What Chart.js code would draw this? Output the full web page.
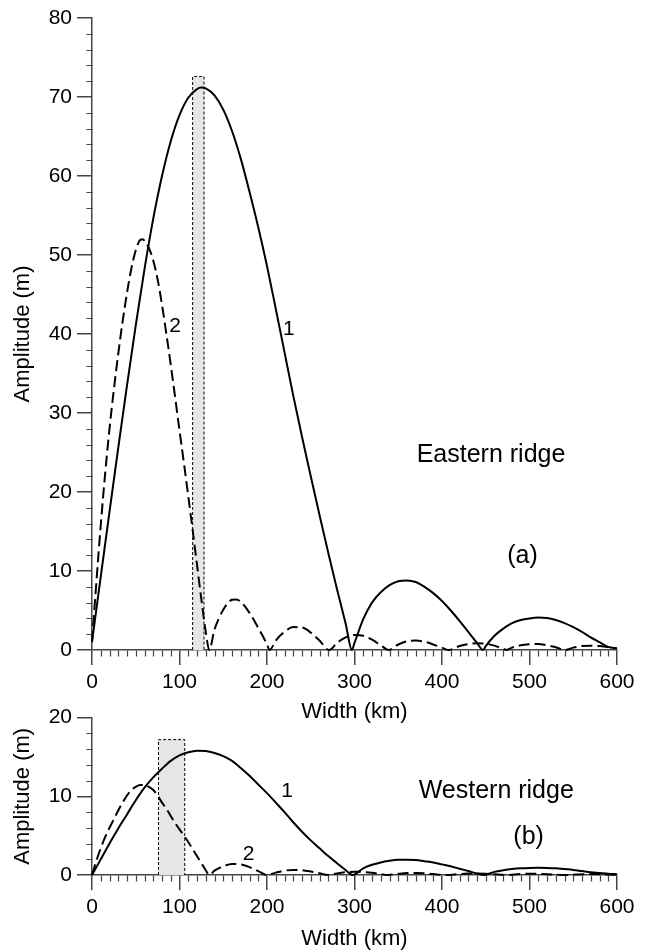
<!DOCTYPE html>
<html>
<head>
<meta charset="utf-8">
<script src="https://cdn.jsdelivr.net/npm/chart.js@4.4.1/dist/chart.umd.min.js"></script>
<style>
  html, body { margin: 0; padding: 0; background: #fff; }
  body { width: 650px; height: 952px; position: relative; overflow: hidden; }
  canvas { position: absolute; left: 0; }
  #eastChart { top: 0; }
  #westChart { top: 700px; }
</style>
</head>
<body>
<canvas id="eastChart" width="650" height="725"></canvas>
<canvas id="westChart" width="650" height="252"></canvas>
<script>
// Eastern ridge (a), curve 1 (solid)
const eastWidth1 = [0,10,20,30,40,50,60,70,80,90,100,110,120,125,130,140,150,160,170,180,190,200,210,220,230,240,250,260,270,280,290,297,300,310,320,330,340,350,360,370,380,390,400,410,420,430,440,447,450,460,470,480,490,500,510,520,530,540,550,560,570,580,590,600];
const eastAmp1 = [1.0,9.3,17.5,25.6,33.5,41.1,48.2,54.6,60.0,64.4,67.7,69.9,71.0,71.2,71.1,70.2,68.4,65.7,62.2,58.0,53.5,48.6,43.2,37.7,32.2,27.0,22.0,17.1,12.3,7.7,3.3,0,0.9,3.9,6.0,7.3,8.2,8.7,8.8,8.6,8.0,7.2,6.2,5.0,3.7,2.3,0.9,0,0.5,1.8,2.7,3.4,3.8,4.0,4.1,4.05,3.8,3.4,2.9,2.3,1.6,1.0,0.4,0.2];

// Eastern ridge (a), curve 2 (dashed)
const eastWidth2 = [0,5,10,15,20,25,30,35,40,45,50,55,58,60,65,70,75,80,85,90,95,100,105,110,115,120,125,130,134,140,145,150,155,160,165,170,175,180,185,190,195,200,203,210,220,230,240,250,260,271,280,290,300,310,320,330,339,350,360,370,380,390,400,407,420,430,440,450,460,470,474,480,490,500,510,520,530,541,550,560,570,580,590,600];
const eastAmp2 = [1.0,8.6,15.8,22.3,28.0,33.0,37.5,41.6,45.2,48.3,50.6,51.9,52.0,51.8,50.9,49.3,46.9,43.7,40.0,36.1,32.0,27.8,23.7,19.5,15.2,10.8,6.4,2.3,0,2.6,4.0,5.1,5.9,6.35,6.4,6.1,5.5,4.7,3.8,2.8,1.8,0.7,0,1.2,2.3,2.9,2.85,2.2,1.2,0,0.9,1.6,1.9,1.8,1.3,0.6,0,0.7,1.1,1.2,1.05,0.7,0.3,0,0.5,0.75,0.85,0.8,0.55,0.15,0,0.3,0.6,0.72,0.75,0.6,0.35,0,0.3,0.5,0.55,0.5,0.35,0.2];

// Western ridge (b), curve 1 (solid)
const westWidth1 = [0,10,20,30,40,50,60,70,80,90,100,110,120,130,140,150,160,170,180,190,200,210,220,230,240,250,260,270,280,290,298,310,320,330,340,350,360,370,380,390,400,410,420,430,440,448,460,470,480,490,500,510,520,530,540,550,560,570,580,590,600];
const westAmp1 = [0,2.0,4.0,5.9,7.7,9.5,11.1,12.4,13.5,14.5,15.2,15.6,15.8,15.75,15.5,15.1,14.5,13.6,12.6,11.5,10.4,9.2,8.0,6.7,5.5,4.4,3.4,2.4,1.5,0.6,0,0.85,1.3,1.6,1.8,1.93,1.95,1.9,1.75,1.6,1.35,1.1,0.8,0.5,0.2,0,0.4,0.6,0.75,0.85,0.9,0.92,0.9,0.85,0.75,0.65,0.5,0.35,0.25,0.15,0.1];

// Western ridge (b), curve 2 (dashed)
const westWidth2 = [0,5,10,15,20,25,30,35,40,45,50,55,60,65,70,75,80,85,90,95,100,105,110,115,120,125,130,134,140,150,160,170,180,190,200,210,220,230,240,250,260,270,280,290,300,310,320,330,338,350,360,370,380,390,405,420,430,440,450,460,473,490,505,520,540,560,570,585,600];
const westAmp2 = [0,1.8,3.4,4.8,6.0,7.1,8.2,9.2,10.1,10.8,11.2,11.45,11.45,11.2,10.8,10.1,9.2,8.4,7.5,6.6,5.8,5.0,4.2,3.3,2.4,1.5,0.6,0,0.55,1.1,1.4,1.35,1.0,0.5,0,0.3,0.55,0.65,0.62,0.45,0.22,0,0.2,0.35,0.42,0.38,0.28,0.12,0,0.15,0.25,0.27,0.22,0.12,0,0.12,0.18,0.19,0.15,0.08,0,0.13,0.16,0.1,0,0.1,0.12,0.08,0.02];

// shaded width range [from, to, top]
const eastBand = [115, 128, 72.6];
const westBand = [76, 106, 17.2];

const FONT = "'Liberation Sans', Arial, Helvetica, sans-serif";
const AXIS = "#444";

const toPoints = (xs, ys) => xs.map((x, i) => ({ x, y: ys[i] }));

function decorPlugin(band, notes, yMinor) {
  return {
    id: "decor",
    beforeDatasetsDraw(chart) {
      const { ctx, scales: { x, y } } = chart;
      const x0 = x.getPixelForValue(band[0]);
      const x1 = x.getPixelForValue(band[1]);
      const yb = y.getPixelForValue(0);
      const yt = y.getPixelForValue(band[2]);
      ctx.save();
      ctx.fillStyle = "#e6e6e6";
      ctx.fillRect(x0, yt, x1 - x0, yb - yt);
      ctx.strokeStyle = "#000";
      ctx.lineWidth = 1;
      ctx.setLineDash([3, 2]);
      ctx.beginPath();
      ctx.moveTo(x0, yb);
      ctx.lineTo(x0, yt);
      ctx.lineTo(x1, yt);
      ctx.lineTo(x1, yb);
      ctx.stroke();
      ctx.restore();
    },
    afterDraw(chart) {
      const { ctx, scales: { x, y } } = chart;
      const axisY = Math.round(y.getPixelForValue(0)) + 0.5;
      const axisX = Math.round(x.getPixelForValue(0)) + 0.5;
      ctx.save();
      ctx.strokeStyle = AXIS;
      ctx.lineWidth = 1.2;
      ctx.beginPath();
      for (let v = 10; v < x.max; v += 10) {
        if (v % 100 === 0) continue;
        const px = Math.round(x.getPixelForValue(v)) + 0.5;
        ctx.moveTo(px, axisY);
        ctx.lineTo(px, axisY + 6);
      }
      for (let v = yMinor; v < y.max; v += yMinor) {
        if (v % 10 === 0) continue;
        const py = Math.round(y.getPixelForValue(v)) + 0.5;
        ctx.moveTo(axisX, py);
        ctx.lineTo(axisX - 6, py);
      }
      ctx.stroke();

      ctx.fillStyle = "#000";
      ctx.textAlign = "center";
      ctx.textBaseline = "middle";
      notes.forEach((n) => {
        ctx.font = `${n.size}px ${FONT}`;
        ctx.fillText(n.text, x.getPixelForValue(n.x), y.getPixelForValue(n.y));
      });
      ctx.restore();
    },
  };
}

function makeChart(id, opts) {
  const tickFont = { family: FONT, size: 21 };
  const titleFont = { family: FONT, size: 22 };
  return new Chart(document.getElementById(id).getContext("2d"), {
    type: "line",
    data: {
      datasets: [
        {
          data: toPoints(opts.width1, opts.amp1),
          borderColor: "#000",
          borderWidth: 2,
          pointRadius: 0,
          cubicInterpolationMode: "monotone",
          clip: 4,
        },
        {
          data: toPoints(opts.width2, opts.amp2),
          borderColor: "#000",
          borderWidth: 2,
          borderDash: [11, 5],
          pointRadius: 0,
          cubicInterpolationMode: "monotone",
          clip: 4,
        },
      ],
    },
    options: {
      responsive: false,
      animation: false,
      events: [],
      layout: { padding: { top: opts.padTop, right: 33, left: 0, bottom: 0 } },
      plugins: { legend: { display: false }, tooltip: { enabled: false } },
      scales: {
        x: {
          type: "linear",
          min: 0,
          max: 600,
          ticks: { stepSize: 100, font: tickFont, color: "#000", padding: 5, maxRotation: 0, autoSkip: false },
          grid: { drawOnChartArea: false, drawTicks: true, tickLength: 15, color: AXIS, lineWidth: 1.5 },
          border: { display: true, color: AXIS, width: 1.5 },
          title: { display: true, text: "Width (km)", font: titleFont, color: "#000", padding: { top: 0, bottom: 0 } },
          afterFit: (s) => { s.height = opts.xHeight; },
        },
        y: {
          type: "linear",
          min: 0,
          max: opts.yMax,
          ticks: { stepSize: 10, font: tickFont, color: "#000", padding: 5, autoSkip: false },
          grid: { drawOnChartArea: false, drawTicks: true, tickLength: 15, color: AXIS, lineWidth: 1.5 },
          border: { display: true, color: AXIS, width: 1.5 },
          title: { display: true, text: "Amplitude (m)", font: titleFont, color: "#000", padding: { top: 10, bottom: 0 } },
          afterFit: (s) => { s.width = 92; },
        },
      },
    },
    plugins: [decorPlugin(opts.band, opts.notes, 2)],
  });
}

makeChart("eastChart", {
  width1: eastWidth1, amp1: eastAmp1,
  width2: eastWidth2, amp2: eastAmp2,
  yMax: 80, padTop: 18, xHeight: 75,
  band: eastBand,
  notes: [
    { text: "Eastern ridge", x: 456, y: 24.7, size: 25 },
    { text: "(a)", x: 492, y: 11.9, size: 25 },
    { text: "1", x: 225, y: 40.6, size: 21 },
    { text: "2", x: 95, y: 41.0, size: 21 },
  ],
});

makeChart("westChart", {
  width1: westWidth1, amp1: westAmp1,
  width2: westWidth2, amp2: westAmp2,
  yMax: 20, padTop: 17, xHeight: 77,
  band: westBand,
  notes: [
    { text: "Western ridge", x: 462, y: 10.7, size: 25 },
    { text: "(b)", x: 499, y: 4.8, size: 25 },
    { text: "1", x: 223, y: 10.7, size: 21 },
    { text: "2", x: 179, y: 2.7, size: 21 },
  ],
});
</script>
</body>
</html>
